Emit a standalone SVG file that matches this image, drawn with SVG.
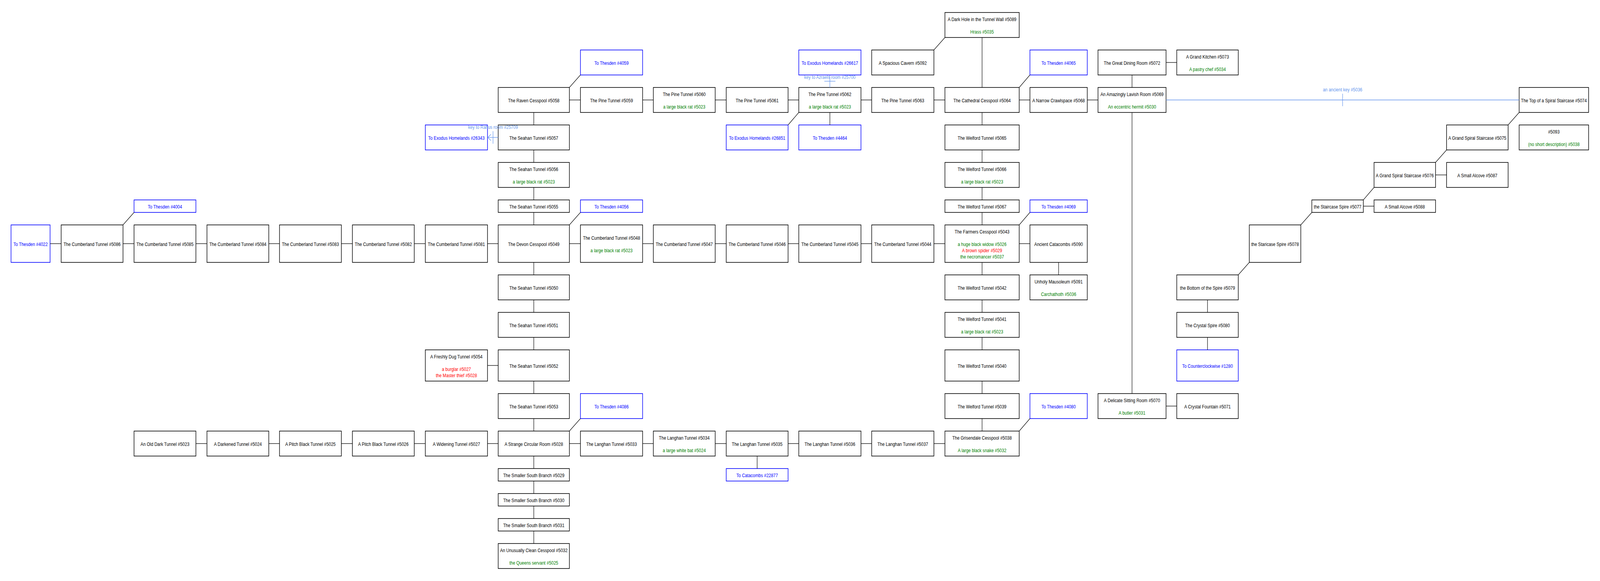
<svg xmlns="http://www.w3.org/2000/svg" width="4631" height="1488" viewBox="0 0 4631 1488" preserveAspectRatio="none" style="width:100%;height:100%;display:block">
<style>
rect{fill:#fff;stroke:#000;stroke-width:1.6}
.x rect{stroke:#00f}
text{font-family:"Liberation Sans",Arial,sans-serif;font-size:12px;text-anchor:middle;fill:#000}
.x text{fill:#00f}
text.g{fill:#008000}
text.r{fill:#f00}
#edges line,#edges polyline{stroke:#000;stroke-width:1.3;fill:none}
#edges .k{stroke:#6495ed}
#edges text{fill:#6495ed}
</style>
<rect x="0" y="0" width="4631" height="1488" style="fill:#fff;stroke:none"/>
<g id="nodes">
<!-- Row A -->
<g id="n5089"><rect x="2735" y="32" width="215" height="64"/><text x="2842.5" y="54">A Dark Hole in the Tunnel Wall #5089</text><text class="g" x="2842.5" y="86">Hrass #5035</text></g>
<!-- Row B -->
<g id="x4059" class="x"><rect x="1680" y="128" width="180" height="64"/><text x="1770" y="166">To Thesden #4059</text></g>
<g id="x26617" class="x"><rect x="2312" y="128" width="180" height="64"/><text x="2402" y="166">To Exodus Homelands #26617</text></g>
<g id="n5092"><rect x="2523" y="128" width="180" height="64"/><text x="2613" y="166">A Spacious Cavern #5092</text></g>
<g id="x4065" class="x"><rect x="2981" y="128" width="166" height="64"/><text x="3064" y="166">To Thesden #4065</text></g>
<g id="n5072"><rect x="3178" y="128" width="197" height="64"/><text x="3276.5" y="166">The Great Dining Room #5072</text></g>
<g id="n5073"><rect x="3406" y="128" width="178" height="64"/><text x="3495" y="150">A Grand Kitchen #5073</text><text class="g" x="3495" y="182">A pastry chef #5034</text></g>
<!-- Row C -->
<g id="n5058"><rect x="1442" y="224" width="206" height="64"/><text x="1545" y="262">The Raven Cesspool #5058</text></g>
<g id="n5059"><rect x="1680" y="224" width="180" height="64"/><text x="1770" y="262">The Pine Tunnel #5059</text></g>
<g id="n5060"><rect x="1891" y="224" width="179" height="64"/><text x="1980.5" y="246">The Pine Tunnel #5060</text><text class="g" x="1980.5" y="278">a large black rat #5023</text></g>
<g id="n5061"><rect x="2102" y="224" width="179" height="64"/><text x="2191.5" y="262">The Pine Tunnel #5061</text></g>
<g id="n5062"><rect x="2312" y="224" width="180" height="64"/><text x="2402" y="246">The Pine Tunnel #5062</text><text class="g" x="2402" y="278">a large black rat #5023</text></g>
<g id="n5063"><rect x="2523" y="224" width="180" height="64"/><text x="2613" y="262">The Pine Tunnel #5063</text></g>
<g id="n5064"><rect x="2735" y="224" width="215" height="64"/><text x="2842.5" y="262">The Cathedral Cesspool #5064</text></g>
<g id="n5068"><rect x="2981" y="224" width="166" height="64"/><text x="3064" y="262">A Narrow Crawlspace #5068</text></g>
<g id="n5069"><rect x="3178" y="224" width="197" height="64"/><text x="3276.5" y="246">An Amazingly Lavish Room #5069</text><text class="g" x="3276.5" y="278">An eccentric hermit #5030</text></g>
<g id="n5074"><rect x="4397" y="224" width="201" height="64"/><text x="4497.5" y="262">The Top of a Spiral Staircase #5074</text></g>
<!-- Row D -->
<g id="x26343" class="x"><rect x="1231" y="320" width="180" height="64"/><text x="1321" y="358">To Exodus Homelands #26343</text></g>
<g id="n5057"><rect x="1442" y="320" width="206" height="64"/><text x="1545" y="358">The Seahan Tunnel #5057</text></g>
<g id="x26851" class="x"><rect x="2102" y="320" width="179" height="64"/><text x="2191.5" y="358">To Exodus Homelands #26851</text></g>
<g id="x4464" class="x"><rect x="2312" y="320" width="180" height="64"/><text x="2402" y="358">To Thesden #4464</text></g>
<g id="n5065"><rect x="2735" y="320" width="215" height="64"/><text x="2842.5" y="358">The Welford Tunnel #5065</text></g>
<g id="n5075"><rect x="4187" y="320" width="178" height="64"/><text x="4276" y="358">A Grand Spiral Staircase #5075</text></g>
<g id="n5093"><rect x="4397" y="320" width="201" height="64"/><text x="4497.5" y="342">#5093</text><text class="g" x="4497.5" y="374">(no short description) #5038</text></g>
<!-- Row E -->
<g id="n5056"><rect x="1442" y="416" width="206" height="64"/><text x="1545" y="438">The Seahan Tunnel #5056</text><text class="g" x="1545" y="470">a large black rat #5023</text></g>
<g id="n5066"><rect x="2735" y="416" width="215" height="64"/><text x="2842.5" y="438">The Welford Tunnel #5066</text><text class="g" x="2842.5" y="470">a large black rat #5023</text></g>
<g id="n5076"><rect x="3977" y="416" width="178" height="64"/><text x="4066" y="454">A Grand Spiral Staircase #5076</text></g>
<g id="n5087"><rect x="4187" y="416" width="178" height="64"/><text x="4276" y="454">A Small Alcove #5087</text></g>
<!-- Row F -->
<g id="x4004" class="x"><rect x="388" y="512" width="179" height="32"/><text x="477.5" y="534">To Thesden #4004</text></g>
<g id="n5055"><rect x="1442" y="512" width="206" height="32"/><text x="1545" y="534">The Seahan Tunnel #5055</text></g>
<g id="x4056" class="x"><rect x="1680" y="512" width="180" height="32"/><text x="1770" y="534">To Thesden #4056</text></g>
<g id="n5067"><rect x="2735" y="512" width="215" height="32"/><text x="2842.5" y="534">The Welford Tunnel #5067</text></g>
<g id="x4069" class="x"><rect x="2981" y="512" width="166" height="32"/><text x="3064" y="534">To Thesden #4069</text></g>
<g id="n5077"><rect x="3797" y="512" width="149" height="32"/><text x="3871.5" y="534">the Staircase Spire #5077</text></g>
<g id="n5088"><rect x="3977" y="512" width="178" height="32"/><text x="4066" y="534">A Small Alcove #5088</text></g>
<!-- Row G -->
<g id="x4022" class="x"><rect x="32" y="576" width="113" height="96"/><text x="88.5" y="630">To Thesden #4022</text></g>
<g id="n5086"><rect x="177" y="576" width="179" height="96"/><text x="266.5" y="630">The Cumberland Tunnel #5086</text></g>
<g id="n5085"><rect x="388" y="576" width="179" height="96"/><text x="477.5" y="630">The Cumberland Tunnel #5085</text></g>
<g id="n5084"><rect x="599" y="576" width="179" height="96"/><text x="688.5" y="630">The Cumberland Tunnel #5084</text></g>
<g id="n5083"><rect x="809" y="576" width="179" height="96"/><text x="898.5" y="630">The Cumberland Tunnel #5083</text></g>
<g id="n5082"><rect x="1020" y="576" width="179" height="96"/><text x="1109.5" y="630">The Cumberland Tunnel #5082</text></g>
<g id="n5081"><rect x="1231" y="576" width="180" height="96"/><text x="1321" y="630">The Cumberland Tunnel #5081</text></g>
<g id="n5049"><rect x="1442" y="576" width="206" height="96"/><text x="1545" y="630">The Devon Cesspool #5049</text></g>
<g id="n5048"><rect x="1680" y="576" width="180" height="96"/><text x="1770" y="614">The Cumberland Tunnel #5048</text><text class="g" x="1770" y="646">a large black rat #5023</text></g>
<g id="n5047"><rect x="1891" y="576" width="179" height="96"/><text x="1980.5" y="630">The Cumberland Tunnel #5047</text></g>
<g id="n5046"><rect x="2102" y="576" width="179" height="96"/><text x="2191.5" y="630">The Cumberland Tunnel #5046</text></g>
<g id="n5045"><rect x="2312" y="576" width="180" height="96"/><text x="2402" y="630">The Cumberland Tunnel #5045</text></g>
<g id="n5044"><rect x="2523" y="576" width="180" height="96"/><text x="2613" y="630">The Cumberland Tunnel #5044</text></g>
<g id="n5043"><rect x="2735" y="576" width="215" height="96"/><text x="2842.5" y="598">The Farmers Cesspool #5043</text><text class="g" x="2842.5" y="630">a huge black widow #5026</text><text class="r" x="2842.5" y="646">A brown spider #5029</text><text class="g" x="2842.5" y="662">the necromancer #5037</text></g>
<g id="n5090"><rect x="2981" y="576" width="166" height="96"/><text x="3064" y="630">Ancient Catacombs #5090</text></g>
<g id="n5078"><rect x="3616" y="576" width="149" height="96"/><text x="3690.5" y="630">the Staricase Spire #5078</text></g>
<!-- Row H -->
<g id="n5050"><rect x="1442" y="704" width="206" height="64"/><text x="1545" y="742">The Seahan Tunnel #5050</text></g>
<g id="n5042"><rect x="2735" y="704" width="215" height="64"/><text x="2842.5" y="742">The Welford Tunnel #5042</text></g>
<g id="n5091"><rect x="2981" y="704" width="166" height="64"/><text x="3064" y="726">Unholy Mausoleum #5091</text><text class="g" x="3064" y="758">Carchathoth #5036</text></g>
<g id="n5079"><rect x="3406" y="704" width="178" height="64"/><text x="3495" y="742">the Bottom of the Spire #5079</text></g>
<!-- Row I -->
<g id="n5051"><rect x="1442" y="800" width="206" height="64"/><text x="1545" y="838">The Seahan Tunnel #5051</text></g>
<g id="n5041"><rect x="2735" y="800" width="215" height="64"/><text x="2842.5" y="822">The Welford Tunnel #5041</text><text class="g" x="2842.5" y="854">a large black rat #5023</text></g>
<g id="n5080"><rect x="3406" y="800" width="178" height="64"/><text x="3495" y="838">The Crystal Spire #5080</text></g>
<!-- Row J -->
<g id="n5054"><rect x="1231" y="896" width="180" height="80"/><text x="1321" y="918">A Freshly Dug Tunnel #5054</text><text class="r" x="1321" y="950">a burglar #5027</text><text class="r" x="1321" y="966">the Master thief #5028</text></g>
<g id="n5052"><rect x="1442" y="896" width="206" height="80"/><text x="1545" y="942">The Seahan Tunnel #5052</text></g>
<g id="n5040"><rect x="2735" y="896" width="215" height="80"/><text x="2842.5" y="942">The Welford Tunnel #5040</text></g>
<g id="x1280" class="x"><rect x="3406" y="896" width="178" height="80"/><text x="3495" y="942">To Counterclockwise #1280</text></g>
<!-- Row K -->
<g id="n5053"><rect x="1442" y="1008" width="206" height="64"/><text x="1545" y="1046">The Seahan Tunnel #5053</text></g>
<g id="x4086" class="x"><rect x="1680" y="1008" width="180" height="64"/><text x="1770" y="1046">To Thesden #4086</text></g>
<g id="n5039"><rect x="2735" y="1008" width="215" height="64"/><text x="2842.5" y="1046">The Welford Tunnel #5039</text></g>
<g id="x4080" class="x"><rect x="2981" y="1008" width="166" height="64"/><text x="3064" y="1046">To Thesden #4080</text></g>
<g id="n5070"><rect x="3178" y="1008" width="197" height="64"/><text x="3276.5" y="1030">A Delicate Sitting Room #5070</text><text class="g" x="3276.5" y="1062">A butler #5031</text></g>
<g id="n5071"><rect x="3406" y="1008" width="178" height="64"/><text x="3495" y="1046">A Crystal Fountain #5071</text></g>
<!-- Row L -->
<g id="n5023"><rect x="388" y="1104" width="179" height="64"/><text x="477.5" y="1142">An Old Dark Tunnel #5023</text></g>
<g id="n5024"><rect x="599" y="1104" width="179" height="64"/><text x="688.5" y="1142">A Darkened Tunnel #5024</text></g>
<g id="n5025"><rect x="809" y="1104" width="179" height="64"/><text x="898.5" y="1142">A Pitch Black Tunnel #5025</text></g>
<g id="n5026"><rect x="1020" y="1104" width="179" height="64"/><text x="1109.5" y="1142">A Pitch Black Tunnel #5026</text></g>
<g id="n5027"><rect x="1231" y="1104" width="180" height="64"/><text x="1321" y="1142">A Widening Tunnel #5027</text></g>
<g id="n5028"><rect x="1442" y="1104" width="206" height="64"/><text x="1545" y="1142">A Strange Circular Room #5028</text></g>
<g id="n5033"><rect x="1680" y="1104" width="180" height="64"/><text x="1770" y="1142">The Langhan Tunnel #5033</text></g>
<g id="n5034"><rect x="1891" y="1104" width="179" height="64"/><text x="1980.5" y="1126">The Langhan Tunnel #5034</text><text class="g" x="1980.5" y="1158">a large white bat #5024</text></g>
<g id="n5035"><rect x="2102" y="1104" width="179" height="64"/><text x="2191.5" y="1142">The Langhan Tunnel #5035</text></g>
<g id="n5036"><rect x="2312" y="1104" width="180" height="64"/><text x="2402" y="1142">The Langhan Tunnel #5036</text></g>
<g id="n5037"><rect x="2523" y="1104" width="180" height="64"/><text x="2613" y="1142">The Langhan Tunnel #5037</text></g>
<g id="n5038"><rect x="2735" y="1104" width="215" height="64"/><text x="2842.5" y="1126">The Grisendale Cesspool #5038</text><text class="g" x="2842.5" y="1158">A large black snake #5032</text></g>
<!-- Rows M-P -->
<g id="n5029"><rect x="1442" y="1200" width="206" height="32"/><text x="1545" y="1222">The Smaller South Branch #5029</text></g>
<g id="x22877" class="x"><rect x="2102" y="1200" width="179" height="32"/><text x="2191.5" y="1222">To Catacombs #22877</text></g>
<g id="n5030"><rect x="1442" y="1264" width="206" height="32"/><text x="1545" y="1286">The Smaller South Branch #5030</text></g>
<g id="n5031"><rect x="1442" y="1328" width="206" height="32"/><text x="1545" y="1350">The Smaller South Branch #5031</text></g>
<g id="n5032"><rect x="1442" y="1392" width="206" height="64"/><text x="1545" y="1414">An Unusually Clean Cesspool #5032</text><text class="g" x="1545" y="1446">the Queens servant #5025</text></g>
</g>
<g id="edges">
<!-- diagonals -->
<line x1="356" y1="576" x2="388" y2="544"/>
<line x1="1648" y1="224" x2="1680" y2="192"/>
<line x1="1648" y1="576" x2="1680" y2="544"/>
<line x1="1648" y1="1104" x2="1680" y2="1072"/>
<line x1="2312" y1="288" x2="2281" y2="320"/>
<line x1="2703" y1="128" x2="2735" y2="96"/>
<line x1="2950" y1="224" x2="2981" y2="192"/>
<line x1="2950" y1="576" x2="2981" y2="544"/>
<line x1="2950" y1="1104" x2="2981" y2="1072"/>
<line x1="4397" y1="288" x2="4365" y2="320"/>
<line x1="4187" y1="384" x2="4155" y2="416"/>
<line x1="3977" y1="480" x2="3946" y2="512"/>
<line x1="3797" y1="544" x2="3765" y2="576"/>
<line x1="3616" y1="672" x2="3584" y2="704"/>
<!-- verticals -->
<line x1="2842.5" y1="96" x2="2842.5" y2="224"/>
<line x1="3276.5" y1="192" x2="3276.5" y2="224"/>
<line x1="1545" y1="288" x2="1545" y2="320"/>
<line x1="1545" y1="384" x2="1545" y2="416"/>
<line x1="1545" y1="480" x2="1545" y2="512"/>
<line x1="1545" y1="544" x2="1545" y2="576"/>
<line x1="1545" y1="672" x2="1545" y2="704"/>
<line x1="1545" y1="768" x2="1545" y2="800"/>
<line x1="1545" y1="864" x2="1545" y2="896"/>
<line x1="1545" y1="976" x2="1545" y2="1008"/>
<line x1="1545" y1="1072" x2="1545" y2="1104"/>
<line x1="1545" y1="1168" x2="1545" y2="1200"/>
<line x1="1545" y1="1232" x2="1545" y2="1264"/>
<line x1="1545" y1="1296" x2="1545" y2="1328"/>
<line x1="1545" y1="1360" x2="1545" y2="1392"/>
<line x1="2402" y1="288" x2="2402" y2="320"/>
<line x1="2842.5" y1="288" x2="2842.5" y2="320"/>
<line x1="2842.5" y1="384" x2="2842.5" y2="416"/>
<line x1="2842.5" y1="480" x2="2842.5" y2="512"/>
<line x1="2842.5" y1="544" x2="2842.5" y2="576"/>
<line x1="2842.5" y1="672" x2="2842.5" y2="704"/>
<line x1="2842.5" y1="768" x2="2842.5" y2="800"/>
<line x1="2842.5" y1="864" x2="2842.5" y2="896"/>
<line x1="2842.5" y1="976" x2="2842.5" y2="1008"/>
<line x1="2842.5" y1="1072" x2="2842.5" y2="1104"/>
<line x1="3064" y1="672" x2="3064" y2="704"/>
<line x1="3276.5" y1="288" x2="3276.5" y2="1008"/>
<line x1="3495" y1="768" x2="3495" y2="800"/>
<line x1="3495" y1="864" x2="3495" y2="896"/>
<line x1="2191.5" y1="1168" x2="2191.5" y2="1200"/>
<!-- horizontals row B, C -->
<line x1="3375" y1="160" x2="3406" y2="160"/>
<line x1="1648" y1="256" x2="1680" y2="256"/>
<line x1="1860" y1="256" x2="1891" y2="256"/>
<line x1="2070" y1="256" x2="2102" y2="256"/>
<line x1="2281" y1="256" x2="2312" y2="256"/>
<line x1="2492" y1="256" x2="2523" y2="256"/>
<line x1="2703" y1="256" x2="2735" y2="256"/>
<line x1="2950" y1="256" x2="2981" y2="256"/>
<line x1="3147" y1="256" x2="3178" y2="256"/>
<!-- rows E, F -->
<line x1="4155" y1="448" x2="4187" y2="448"/>
<line x1="3946" y1="528" x2="3977" y2="528"/>
<!-- row G -->
<line x1="145" y1="624" x2="177" y2="624"/>
<line x1="356" y1="624" x2="388" y2="624"/>
<line x1="567" y1="624" x2="599" y2="624"/>
<line x1="778" y1="624" x2="809" y2="624"/>
<line x1="988" y1="624" x2="1020" y2="624"/>
<line x1="1199" y1="624" x2="1231" y2="624"/>
<line x1="1411" y1="624" x2="1442" y2="624"/>
<line x1="1648" y1="624" x2="1680" y2="624"/>
<line x1="1860" y1="624" x2="1891" y2="624"/>
<line x1="2070" y1="624" x2="2102" y2="624"/>
<line x1="2281" y1="624" x2="2312" y2="624"/>
<line x1="2492" y1="624" x2="2523" y2="624"/>
<line x1="2703" y1="624" x2="2735" y2="624"/>
<line x1="2950" y1="624" x2="2981" y2="624"/>
<!-- rows J, K -->
<line x1="1411" y1="936" x2="1442" y2="936"/>
<line x1="3375" y1="1040" x2="3406" y2="1040"/>
<!-- row L -->
<line x1="567" y1="1136" x2="599" y2="1136"/>
<line x1="778" y1="1136" x2="809" y2="1136"/>
<line x1="988" y1="1136" x2="1020" y2="1136"/>
<line x1="1199" y1="1136" x2="1231" y2="1136"/>
<line x1="1411" y1="1136" x2="1442" y2="1136"/>
<line x1="1648" y1="1136" x2="1680" y2="1136"/>
<line x1="1860" y1="1136" x2="1891" y2="1136"/>
<line x1="2070" y1="1136" x2="2102" y2="1136"/>
<line x1="2281" y1="1136" x2="2312" y2="1136"/>
<line x1="2492" y1="1136" x2="2523" y2="1136"/>
<line x1="2703" y1="1136" x2="2735" y2="1136"/>
<!-- keyed exits -->
<g id="k25709">
<line class="k" x1="1442" y1="352" x2="1412" y2="352"/>
<line class="k" x1="1427" y1="336" x2="1427" y2="368"/>
<polyline class="k" points="1421,344 1412,352 1421,360"/>
<text x="1427" y="330">key to Rahus room #25709</text>
</g>
<g id="k25700">
<line class="k" x1="2402" y1="224" x2="2402" y2="193"/>
<line class="k" x1="2386" y1="208" x2="2418" y2="208"/>
<text x="2402" y="202">key to Azraels room #25700</text>
</g>
<g id="k5036">
<line class="k" x1="3375" y1="256" x2="4397" y2="256"/>
<line class="k" x1="3886" y1="240" x2="3886" y2="272"/>
<text x="3886" y="234">an ancient key #5036</text>
</g>
</g>
</svg>
